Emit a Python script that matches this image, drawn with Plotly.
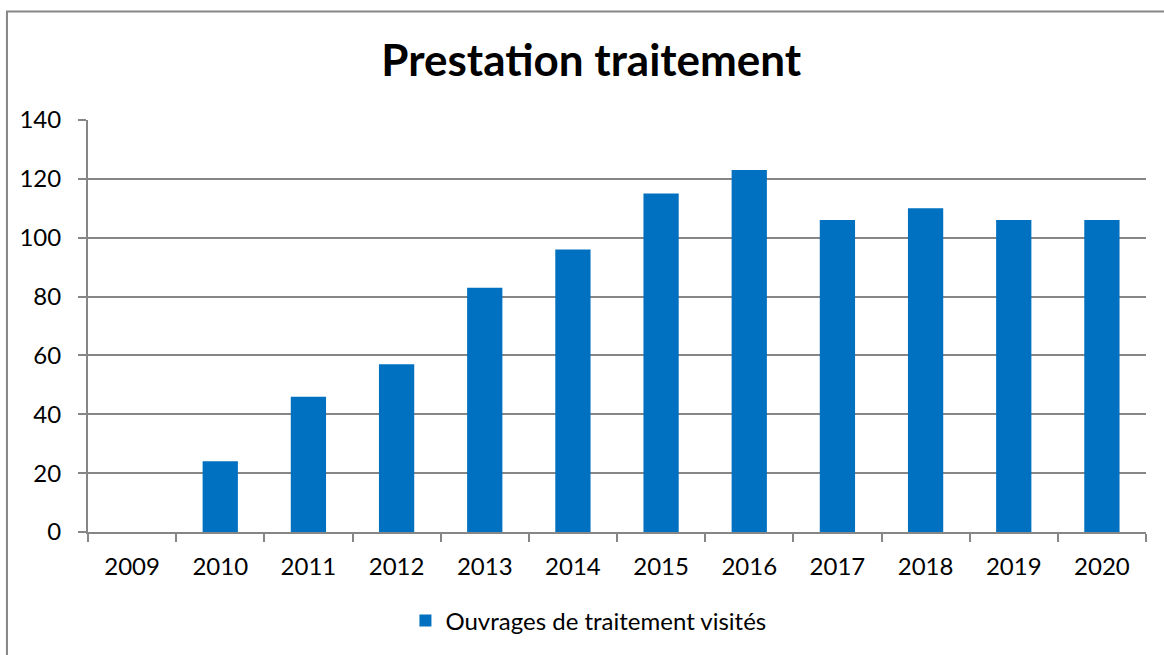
import plotly.graph_objects as go

years = ["2009", "2010", "2011", "2012", "2013", "2014", "2015", "2016", "2017", "2018", "2019", "2020"]
values = [0, 24, 46, 57, 83, 96, 115, 123, 106, 110, 106, 106]
series_name = "Ouvrages de traitement visités"
title_text = "Prestation traitement"
y_ticks = [0, 20, 40, 60, 80, 100, 120, 140]

FONT = "Lato, 'Noto Sans', sans-serif"
GRAY = "#868686"

fig = go.Figure()
fig.add_trace(go.Bar(
    x=years, y=values, name=series_name,
    marker=dict(color="#0070C0", line=dict(width=0)),
    showlegend=True,
))

fig.update_layout(
    width=1164, height=655,
    margin=dict(l=88, r=18, t=120, b=121),
    paper_bgcolor="white", plot_bgcolor="white",
    font=dict(family=FONT, size=24, color="#000000"),
    bargap=0.6,
    title=dict(text="<b>" + title_text + "</b>", x=0.508, xanchor="center",
               y=0.908, yanchor="middle",
               font=dict(family=FONT, size=44, color="#000000")),
    legend=dict(orientation="h", x=0.473, xanchor="center", y=-0.216, yanchor="middle",
                font=dict(family=FONT, size=24), itemwidth=30),
    showlegend=True,
)

fig.update_xaxes(
    type="category", showline=True, linecolor=GRAY, linewidth=2,
    ticks="outside", tickson="boundaries", ticklen=8, tickcolor=GRAY, tickwidth=2,
    showgrid=False, ticklabelstandoff=12,
)
fig.update_yaxes(
    range=[0, 140], tickvals=y_ticks, showline=True, linecolor=GRAY, linewidth=2,
    ticks="outside", ticklen=8, tickcolor=GRAY, tickwidth=2,
    showgrid=True, gridcolor=GRAY, gridwidth=2, zeroline=False,
    ticklabelstandoff=12,
)

fig.add_shape(type="rect", xref="paper", yref="paper",
              x0=-0.0766, x1=1.2, y0=-0.5, y1=1.2636,
              line=dict(color=GRAY, width=2), fillcolor="rgba(0,0,0,0)", layer="below")

fig.write_html("out.html")
